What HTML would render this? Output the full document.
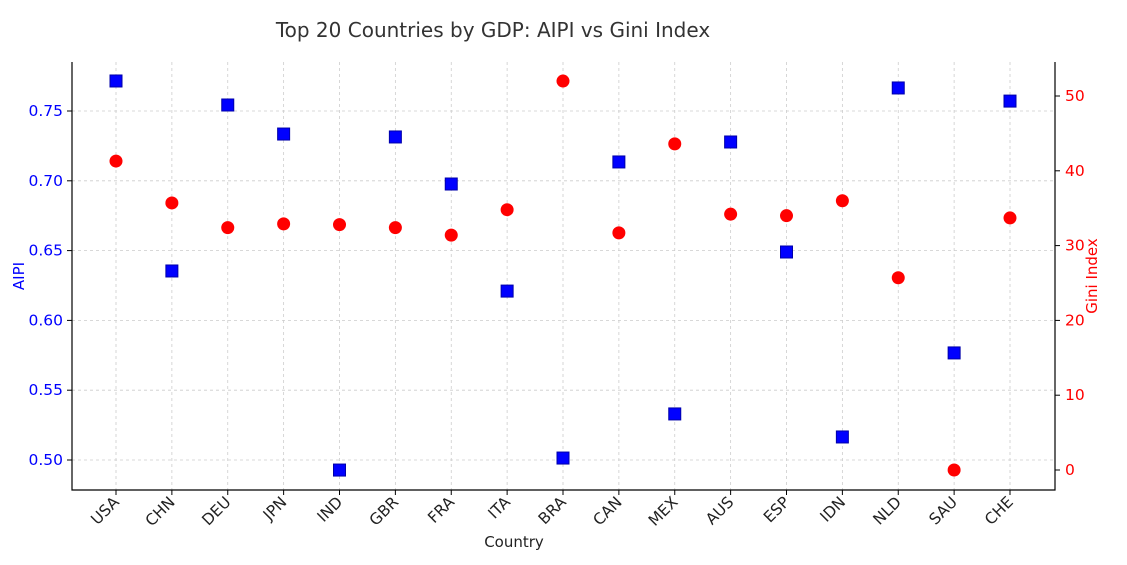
<!DOCTYPE html>
<html><head><meta charset="utf-8"><style>
body{margin:0;background:#fff;font-family:"Liberation Sans","DejaVu Sans",sans-serif}
svg text{font-family:"DejaVu Sans","Liberation Sans",sans-serif}
</style></head><body>
<svg id="chart" width="1127" height="560" xmlns="http://www.w3.org/2000/svg">
<text x="493" y="37" font-size="20" fill="#333" text-anchor="middle">Top 20 Countries by GDP: AIPI vs Gini Index</text>
<g id="grid"></g>
<g id="axes"></g>
<g id="marks"></g>
<text x="514" y="547" font-size="15" fill="#222" text-anchor="middle">Country</text>
<text transform="translate(24,276) rotate(-90)" font-size="15" fill="#0000ff" text-anchor="middle">AIPI</text>
<text transform="translate(1097,276) rotate(-90)" font-size="15" fill="#ff0000" text-anchor="middle">Gini Index</text>
</svg>
<script>
const countries=["USA","CHN","DEU","JPN","IND","GBR","FRA","ITA","BRA","CAN","MEX","AUS","ESP","IDN","NLD","SAU","CHE"];
const aipi=[0.7715,0.6354,0.7543,0.7335,0.4928,0.7314,0.6977,0.621,0.5014,0.7135,0.533,0.7278,0.649,0.5165,0.7665,0.5767,0.7571];
const gini=[41.3,35.7,32.4,32.9,32.8,32.4,31.4,34.8,52.0,31.7,43.6,34.2,34.0,36.0,25.7,0,33.7];
const leftTicks=[0.50,0.55,0.60,0.65,0.70,0.75];
const rightTicks=[0,10,20,30,40,50];
const L=72,R=1055,T=62,B=490;
const xS=i=>116+i*(1010-116)/(countries.length-1);
const yL=v=>460-(v-0.5)/0.05*69.8;
const yR=v=>470-v*7.48;
const NS="http://www.w3.org/2000/svg";
function mk(p,t,a){const e=document.createElementNS(NS,t);for(const k in a)e.setAttribute(k,a[k]);p.appendChild(e);return e;}
const grid=document.getElementById('grid'),axes=document.getElementById('axes'),marks=document.getElementById('marks');
countries.forEach((c,i)=>{
 const g=mk(grid,'line',{x1:xS(i),x2:xS(i),y1:T,y2:B,stroke:'#ccc','stroke-dasharray':'3,3','stroke-width':0.8});
 
 
 const tk=mk(axes,'line',{x1:xS(i),x2:xS(i),y1:B,y2:B+5,stroke:'#000'});
 
 
 const t=mk(axes,'text',{transform:`translate(${xS(i)+4},${B+13}) rotate(-45)`,'font-size':15.5,fill:'#222','text-anchor':'end'});
 t.textContent=c;
 
 
});
leftTicks.forEach(v=>{
 const g=mk(grid,'line',{x1:L,x2:R,y1:yL(v),y2:yL(v),stroke:'#ccc','stroke-dasharray':'3,3','stroke-width':0.8});
 
 
 const tk=mk(axes,'line',{x1:L-5,x2:L,y1:yL(v),y2:yL(v),stroke:'#000'});
 
 
 const t=mk(axes,'text',{x:L-9,y:yL(v)+5,'font-size':15.5,fill:'#0000ff','text-anchor':'end'});
 t.textContent=v.toFixed(2);
 
 
});
rightTicks.forEach(v=>{
 const tk=mk(axes,'line',{x1:R,x2:R+5,y1:yR(v),y2:yR(v),stroke:'#000'});
 
 
 const t=mk(axes,'text',{x:R+10,y:yR(v)+5,'font-size':15.5,fill:'#ff0000'});
 t.textContent=v;
 
 
});
const ax=mk(axes,'path',{d:`M${L},${T}V${B}H${R}V${T}`,fill:'none',stroke:'#000','stroke-width':1.2});


gini.forEach((v,i)=>{
 const c=mk(marks,'circle',{cx:xS(i),cy:yR(v),r:6.5,fill:'#ff0000'});
 
 
});
aipi.forEach((v,i)=>{
 const s=mk(marks,'rect',{x:xS(i)-6,y:yL(v)-6,width:12,height:12,fill:'#0000ff',stroke:'#0000aa','stroke-width':1});
 
 
});
</script>
</body></html>
